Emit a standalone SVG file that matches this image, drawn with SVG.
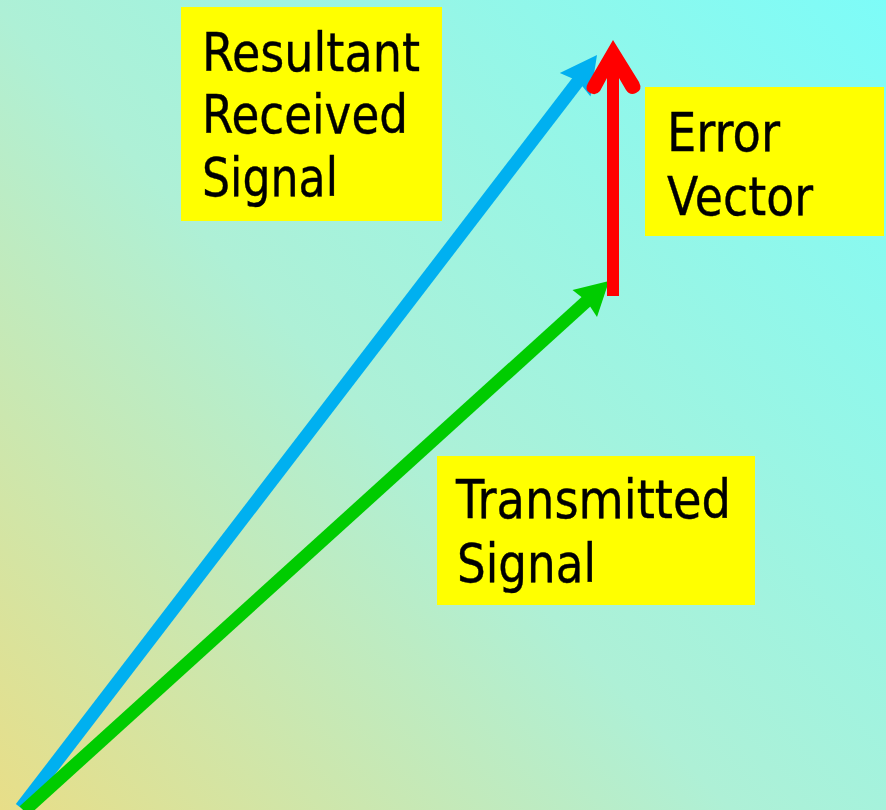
<svg xmlns="http://www.w3.org/2000/svg" width="886" height="810" viewBox="0 0 886 810">
  <defs>
    <linearGradient id="bg" gradientUnits="userSpaceOnUse" x1="0" y1="810" x2="886" y2="0">
      <stop offset="0" stop-color="#e8de88"/>
      <stop offset="0.45" stop-color="#aef0d6"/>
      <stop offset="1" stop-color="#7dfcf8"/>
    </linearGradient>
    <style>
      .box { fill: #ffff00; }
      .lbl { font-family: "DejaVu Sans", "Liberation Sans", sans-serif; font-size: 53px; fill: #000000; stroke: #000000; stroke-width: 0.4; }
      .blue { stroke: #00b0f0; fill: none; stroke-width: 13; }
      .green { stroke: #00cc00; fill: none; stroke-width: 13; }
      .red { stroke: #ff0000; fill: none; stroke-width: 12; }
    </style>
  </defs>

  <!-- background -->
  <rect x="0" y="0" width="886" height="810" fill="url(#bg)"/>

  <!-- vectors -->
  <g id="connectors">
    <!-- resultant received signal -->
    <line class="blue" x1="21" y1="808" x2="579" y2="80"/>
    <polygon fill="#00b0f0" points="597,55 559.8,73 578.2,81 590.5,96.5"/>
    <!-- transmitted signal -->
    <line class="green" x1="24" y1="811" x2="589" y2="299"/>
    <polygon fill="#00cc00" points="609,281 572.5,290 586.5,301 597,317"/>
    <!-- error vector -->
    <line class="red" x1="613" y1="296" x2="613" y2="70"/>
    <path fill="#ff0000" d="M613,40 L639,82 Q643,90 636,93 Q630,96 626,90 L619,78 L607,78 L600,91 Q596,96 590,93 Q584,90 588,83 Z"/>
  </g>

  <g id="resultant">
    <rect class="box" x="181" y="7" width="261" height="214"/>
    <text class="lbl" x="202" y="71" textLength="218" lengthAdjust="spacingAndGlyphs">Resultant</text>
    <text class="lbl" x="202" y="133" textLength="206" lengthAdjust="spacingAndGlyphs">Received</text>
    <text class="lbl" x="202" y="196" textLength="136" lengthAdjust="spacingAndGlyphs">Signal</text>
  </g>

  <g id="error">
    <rect class="box" x="645" y="87" width="239" height="149"/>
    <text class="lbl" x="667" y="151" textLength="113" lengthAdjust="spacingAndGlyphs">Error</text>
    <text class="lbl" x="667" y="215" textLength="146" lengthAdjust="spacingAndGlyphs">Vector</text>
  </g>

  <g id="transmitted">
    <rect class="box" x="437" y="456" width="318" height="149"/>
    <text class="lbl" x="456" y="518" textLength="275" lengthAdjust="spacingAndGlyphs">Transmitted</text>
    <text class="lbl" x="457" y="582" textLength="139" lengthAdjust="spacingAndGlyphs">Signal</text>
  </g>
</svg>
